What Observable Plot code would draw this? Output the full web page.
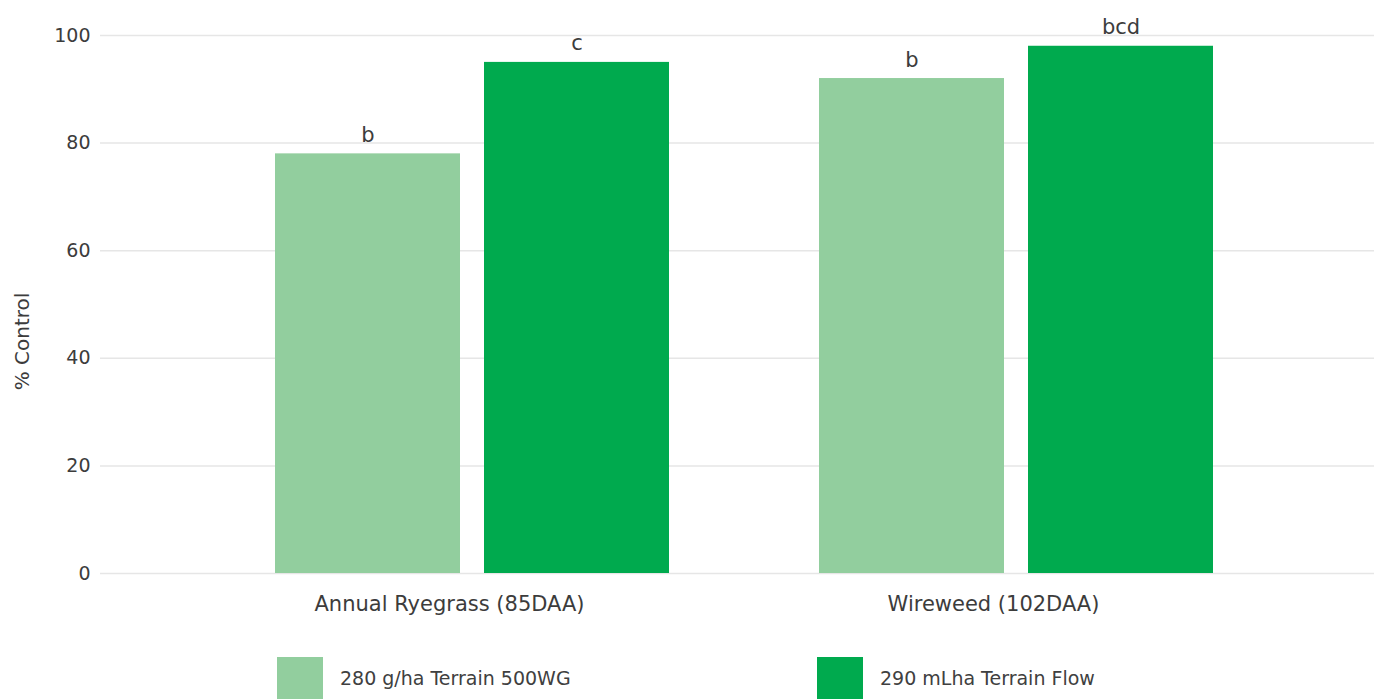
<!DOCTYPE html>
<html>
<head>
<meta charset="utf-8">
<script src="https://cdn.jsdelivr.net/npm/d3@7"></script>
<script src="https://cdn.jsdelivr.net/npm/@observablehq/plot@0.6"></script>
<style>
  body { margin: 0; background: #fff; font-family: "DejaVu Sans", sans-serif; overflow: hidden; }
  #legend { display: flex; padding-left: 277px; margin-top: 17px; }
  .item { display: flex; align-items: center; width: 540px; }
  .sw { width: 46px; height: 42px; margin-right: 17px; }
  .lbl { font-size: 19px; color: #404040; }
</style>
</head>
<body>
<div id="chart"></div>
<div id="legend"></div>
<script>
const categories = ["Annual Ryegrass (85DAA)", "Wireweed (102DAA)"];
const series = ["280 g/ha Terrain 500WG", "290 mLha Terrain Flow"];
const values280 = [78, 92];
const values290 = [95, 98];
const letters280 = ["b", "b"];
const letters290 = ["c", "bcd"];
const colors = ["#92ce9e", "#00aa4e"];
const yTicks = [0, 20, 40, 60, 80, 100];

const light = categories.map((c, i) => ({cat: c, series: series[0], value: values280[i], letter: letters280[i]}));
const dark = categories.map((c, i) => ({cat: c, series: series[1], value: values290[i], letter: letters290[i]}));

const textColor = "#3c3c3c";
const half = 209;      // inset so each series takes its half of the category band
const offset = 104.5;  // label offset to the center of each half

const chart = Plot.plot({
  width: 1374,
  height: 640,
  marginLeft: 100,
  marginRight: 0,
  marginTop: 35,
  marginBottom: 67,
  style: {fontFamily: "DejaVu Sans, sans-serif", fontSize: "20px", color: textColor, overflow: "visible", background: "#fff"},
  x: {domain: categories, range: [274, 1213], paddingInner: 0.276, paddingOuter: 0, label: null},
  y: {domain: [0, 100], label: null},
  color: {domain: series, range: colors},
  marks: [
    Plot.ruleY(yTicks, {stroke: "#e6e6e6", strokeWidth: 1.5}),
    Plot.axisY({ticks: yTicks, tickSize: 0, tickPadding: 10, label: null, fontSize: 19, fill: textColor}),
    Plot.axisX({tickSize: 0, tickPadding: 23, label: null, fontSize: 21, dx: -23, fill: textColor}),
    Plot.barY(light, {x: "cat", y: "value", fill: "series", insetRight: half}),
    Plot.barY(dark, {x: "cat", y: "value", fill: "series", insetLeft: half}),
    Plot.text(light, {x: "cat", y: "value", text: "letter", dx: -offset, dy: -12, lineAnchor: "bottom", fill: textColor, fontSize: 21}),
    Plot.text(dark, {x: "cat", y: "value", text: "letter", dx: offset, dy: -12, lineAnchor: "bottom", fill: textColor, fontSize: 21}),
    Plot.text(["% Control"], {frameAnchor: "left", textAnchor: "middle", rotate: -90, dx: -78, dy: 37, fill: textColor, fontSize: 20})
  ]
});
document.getElementById("chart").appendChild(chart);

const legend = document.getElementById("legend");
series.forEach((s, i) => {
  const item = document.createElement("div");
  item.className = "item";
  const sw = document.createElement("div");
  sw.className = "sw";
  sw.style.background = colors[i];
  const lbl = document.createElement("span");
  lbl.className = "lbl";
  lbl.textContent = s;
  item.appendChild(sw);
  item.appendChild(lbl);
  legend.appendChild(item);
});
</script>
</body>
</html>
